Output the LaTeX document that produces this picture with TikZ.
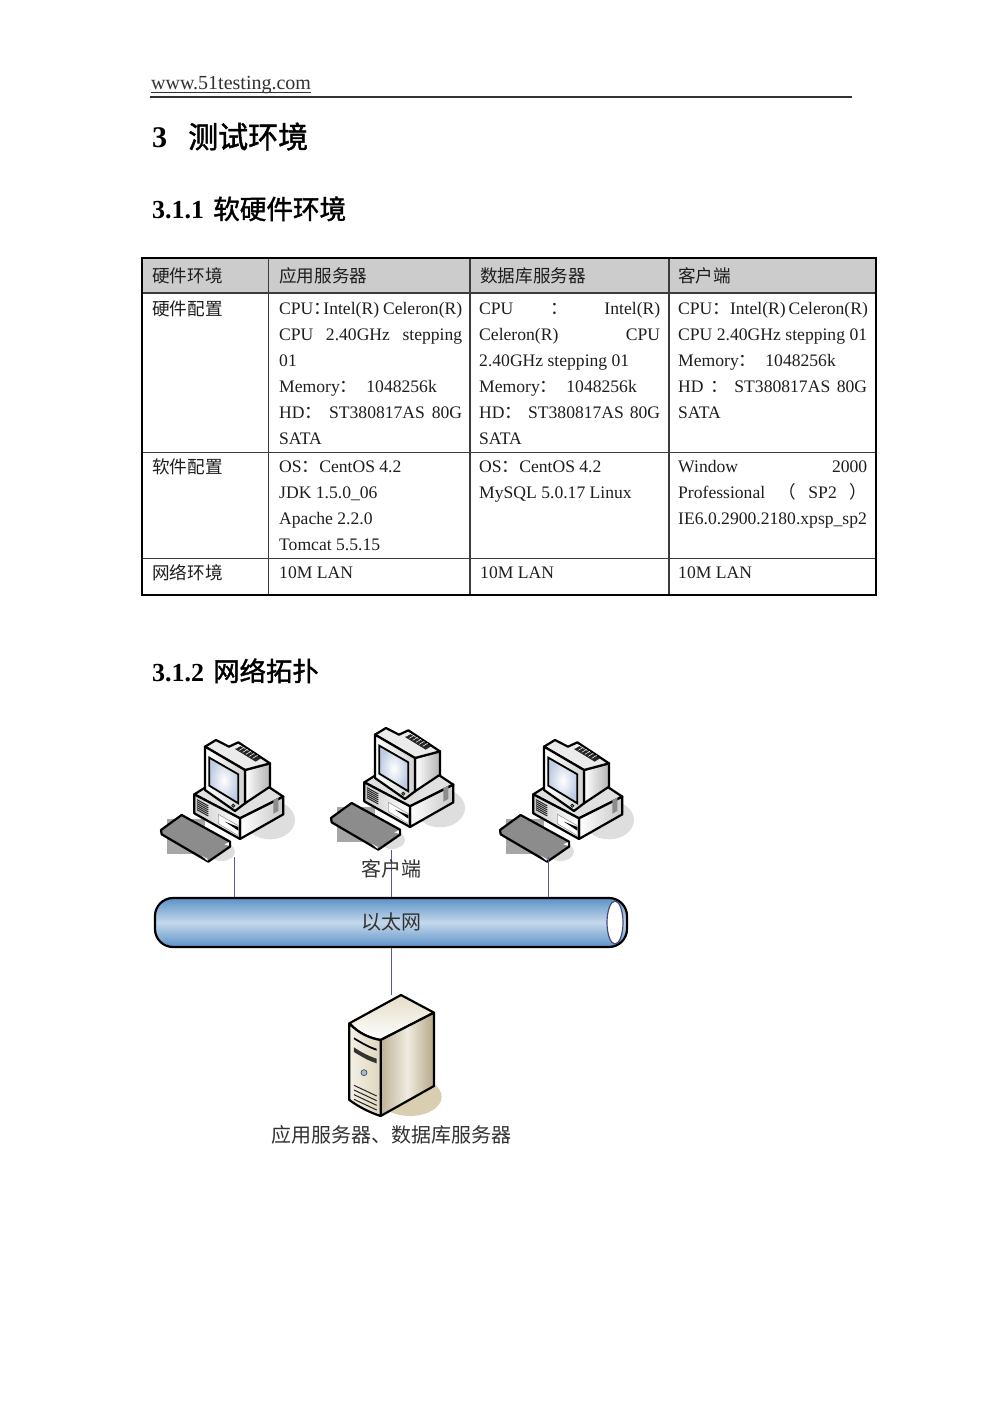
\documentclass[tikz,border=0pt]{standalone}
\usepackage{fontspec}
\setmainfont{Liberation Serif}
\newfontfamily\cjk{Noto Sans CJK SC}
\newfontfamily\cjkhead[FakeBold=1.5]{Noto Sans CJK SC}
\usetikzlibrary{shapes.geometric, positioning, calc}
\definecolor{headgray}{RGB}{204, 204, 204}
\definecolor{gridgray}{RGB}{60, 60, 60}
\definecolor{inkgray}{RGB}{50, 50, 50}
\definecolor{pcshadow}{RGB}{222, 222, 222}
\definecolor{keygray}{RGB}{140, 140, 140}
\definecolor{screenblue}{RGB}{190, 203, 226}
\definecolor{linkblue}{RGB}{90, 90, 155}
\definecolor{tubeblue}{RGB}{92, 146, 200}
\definecolor{tubelight}{RGB}{196, 216, 234}
\definecolor{srvtan}{RGB}{217, 206, 176}
\definecolor{srvdark}{RGB}{168, 152, 116}
\newcommand{\cn}[1]{{\cjk #1}}
\newcommand{\hn}[2]{{\fontsize{#1}{30}\selectfont\mdseries\cjkhead #2}}
\newcommand{\fc}{{\cjk ：}}
\newcommand{\nc}{\makebox[10pt][l]{\cjk ：}}
\newcommand{\fit}[2][183pt]{\makebox[#1][s]{#2}}
\tikzset{
  headline/.style={anchor=base west, inner sep=0pt, font=\fontsize{30}{34}\selectfont\bfseries},
  subhead/.style={anchor=base west, inner sep=0pt, font=\fontsize{26}{30}\selectfont\bfseries},
  cellbox/.style={anchor=base west, inner sep=0pt, align=flush left, text width=230pt, text=inkgray!60!black,
    font=\fontsize{17.6}{26}\selectfont},
  netlabel/.style={inner sep=0pt, text=inkgray, font=\fontsize{20}{24}\selectfont\cjk},
  gridline/.style={draw=gridgray, line width=1.2pt},
  outerline/.style={draw=black, line width=2.5pt},
  busline/.style={draw=linkblue, line width=1pt},
  pcline/.style={draw=black, line width=2.2pt, line join=round},
  pcset/.pic={
    \begin{scope}[x=.3333pt, y=-.3333pt]
      % shadows and the grey patch behind the keyboard
      \fill[pcshadow] (345,255) ellipse [x radius=75, y radius=58];
      \fill[pcshadow] (200,350) ellipse [x radius=40, y radius=28];
      \fill[black!35] (35,252) rectangle (150,358);
      % case
      \path[pcline, fill=black!12] (118,178) -- (150,158) -- (340,155) -- (385,185) -- (255,250) -- cycle;
      \path[pcline, left color=white, right color=black!22] (255,250) -- (385,185) -- (385,238) -- (255,312) -- cycle;
      \path[pcline, left color=black!20, right color=white] (118,178) -- (255,250) -- (255,312) -- (118,235) -- cycle;
      \fill[black!45] (355,195) -- (370,188) -- (370,228) -- (355,236) -- cycle;
      \foreach \k in {0,6,...,30} {\draw[black!85, line width=1pt] (126,194+\k) -- (160,213+\k);}
      \path[draw=black!40, line width=.6pt, fill=white] (190,238) -- (250,272) -- (250,302) -- (190,266) -- cycle;
      \fill[black] (210,260) -- (250,276) -- (250,287) -- cycle;
      % monitor
      \path[pcline, left color=white, right color=black!30] (270,105) -- (345,85) -- (345,155) -- (270,205) -- cycle;
      \path[pcline, fill=black!8] (150,35) -- (183,15) -- (222,35) -- (250,22) -- (345,85) -- (270,105) -- cycle;
      \fill[black!85] (240,42) -- (255,33) -- (318,70) -- (302,80) -- cycle;
      \foreach \k in {0,10,...,50} {\draw[white, line width=.5pt] (243+\k,40+.6*\k) -- (258+\k,31+.6*\k);}
      \path[pcline, left color=white, right color=black!18] (150,35) -- (270,105) -- (270,205) -- (240,228) -- (150,165) -- cycle;
      \path[draw=black, line width=1.8pt, inner color=white, outer color=screenblue] (163,68) -- (250,118) -- (250,205) -- (163,152) -- cycle;
      \path[draw=black, line width=.5pt, fill=green!50!black!75] (235,212) circle [radius=5];
      % keyboard
      \path[pcline, fill=keygray] (18,285) -- (80,240) -- (225,320) -- (225,335) -- (160,380) -- (20,298) -- cycle;
      \fill[white] (140,362) -- (158,372) -- (158,378) -- cycle;
      \fill[white] (208,328) -- (222,322) -- (222,332) -- cycle;
    \end{scope}
  },
  srvset/.pic={
    \begin{scope}[x=.3333pt, y=-.3333pt]
      \fill[srvtan] (450,470) ellipse [x radius=95, y radius=58];
      % tower faces
      \path[pcline, top color=srvtan!70, bottom color=white] (268,250) -- (423,165) -- (522,218) -- (362,300) .. controls (330,295) and (295,280) .. (268,250) -- cycle;
      \path[pcline, shading angle=60, left color=srvdark!75, right color=srvdark!85, middle color=srvtan!40] (362,300) -- (522,218) -- (522,438) -- (362,528) -- cycle;
      \path[pcline, left color=srvtan!30, right color=srvtan!85] (268,250) .. controls (295,280) and (330,295) .. (362,300) -- (362,528) .. controls (330,518) and (295,500) .. (268,480) -- cycle;
      % drive slots, lamp and vents
      \fill[black] (282,298) .. controls (305,312) and (330,326) .. (350,332) -- (350,326) .. controls (325,318) and (305,306) .. (282,292) -- cycle;
      \fill[black!80] (282,322) .. controls (305,338) and (330,350) .. (350,356) -- (350,370) .. controls (325,362) and (305,350) .. (282,336) -- cycle;
      \path[draw=black!70, fill=green!35!blue!40!white, line width=.7pt] (312,398) circle [radius=9];
      \foreach \k in {0,14,28,42} {\draw[black!85, line width=1pt] (282,436+\k) -- (350,468+\k);}
    \end{scope}
  }
}

\begin{document}
\begin{tikzpicture}[x=1pt, y=-1pt]
  \path[use as bounding box, fill=white] (0,0) rectangle (1000,1415);

  % Page head and titles
  \node[anchor=base west, inner sep=0pt, font=\fontsize{20}{24}\selectfont, text=inkgray] (pagehead) at (151,90) {www.51testing.com};
  \draw[draw=inkgray, line width=.9pt] ($(pagehead.base west)+(0,2.2)$) -- ($(pagehead.base east)+(0,2.2)$);
  \draw[draw=inkgray, line width=1.3pt] (150,97) -- (852,97);
  \node[headline] (title) at (152,148) {3\hspace{21pt}\hn{30}{测试环境}};
  \node[subhead] (envhead) at (152,219) {3.1.1\hspace{9pt}\hn{26.6}{软硬件环境}};
  \node[subhead] (nethead) at (152,681) {3.1.2\hspace{9pt}\hn{26.4}{网络拓扑}};

  % Table grid
  \fill[headgray] (142,258) rectangle (876,293);
  \draw[gridline] (142,293) -- (876,293);
  \draw[gridline] (142,452.5) -- (876,452.5);
  \draw[gridline] (142,558.5) -- (876,558.5);
  \draw[gridline] (268.5,258) -- (268.5,595);
  \draw[gridline] (470,258) -- (470,595);
  \draw[gridline] (669,258) -- (669,595);
  \draw[outerline] (142,258) rectangle (876,595);

  % Table head
  \node[cellbox] (headhw) at (152,283) {\cn{硬件环境}};
  \node[cellbox] (headapp) at (279,283) {\cn{应用服务器}};
  \node[cellbox] (headdb) at (480,283) {\cn{数据库服务器}};
  \node[cellbox] (headcl) at (678,283) {\cn{客户端}};

  % Hardware row
  \node[cellbox] (hwname) at (152,315) {\cn{硬件配置}};
  \node[cellbox] (hwapp) at (279,314) {%
    \fit{CPU\nc Intel(R) Celeron(R)}\\
    \fit{CPU 2.40GHz stepping}\\
    01\\
    Memory\fc\hspace{9pt}1048256k\\
    \fit{HD\fc\ ST380817AS 80G}\\
    SATA};
  \node[cellbox] (hwdb) at (479,314) {%
    \fit[181pt]{CPU \cn{：} Intel(R)}\\
    \fit[181pt]{Celeron(R) CPU}\\
    2.40GHz stepping 01\\
    Memory\fc\hspace{9pt}1048256k\\
    \fit[181pt]{HD\fc\ ST380817AS 80G}\\
    SATA};
  \node[cellbox] (hwcl) at (678,314) {%
    \fit[189pt]{CPU\fc Intel(R) Celeron(R)}\\
    \fit[189pt]{CPU 2.40GHz stepping 01}\\
    Memory\fc\hspace{9pt}1048256k\\
    \fit[189pt]{HD\ \fc\ ST380817AS 80G}\\
    SATA};

  % Software row
  \node[cellbox] (swname) at (152,473) {\cn{软件配置}};
  \node[cellbox] (swapp) at (279,472) {%
    OS\fc CentOS 4.2\\
    JDK 1.5.0\_06\\
    Apache 2.2.0\\
    Tomcat 5.5.15};
  \node[cellbox] (swdb) at (479,472) {%
    OS\fc CentOS 4.2\\
    MySQL 5.0.17 Linux};
  \node[cellbox] (swcl) at (678,472) {%
    \fit[189pt]{Window 2000}\\
    \fit[189pt]{Professional \cn{（} SP2 \cn{）}}\\
    \fit[189pt]{IE6.0.2900.2180.xpsp\_sp2}};

  % Network row
  \node[cellbox] (lanname) at (152,579) {\cn{网络环境}};
  \node[cellbox] (lanapp) at (279,578) {10M LAN};
  \node[cellbox] (landb) at (480,578) {10M LAN};
  \node[cellbox] (lancl) at (678,578) {10M LAN};

  % Machines
  \pic (pcleft) at (155,735) {pcset};
  \pic (pcmid) at (325,723) {pcset};
  \pic (pcright) at (494,735) {pcset};
  \pic (server) at (260,940) {srvset};

  % Ethernet tube
  \node[draw=black, line width=2.2pt, rounded corners=18pt, minimum width=472pt, minimum height=49pt,
    inner sep=0pt, top color=tubeblue, bottom color=tubeblue, middle color=tubelight] (ether) at (391,922.5) {};
  \node[draw=linkblue!80!black, fill=white, line width=1.2pt, ellipse, minimum width=16pt, minimum height=43pt, inner sep=0pt] (etherend) at (615,922.5) {};
  \node[netlabel] (ethertext) at (391,922) {以太网};

  % Links
  \coordinate (dropleft) at (234.5,857);
  \coordinate (dropmid) at (391.5,850);
  \coordinate (dropright) at (548.5,857);
  \coordinate (dropsrv) at (391.5,995);
  \draw[busline] (dropleft) -- (dropleft |- ether.north);
  \draw[busline] (dropmid) -- (dropmid |- ether.north);
  \draw[busline] (dropright) -- (dropright |- ether.north);
  \draw[busline] (dropsrv |- ether.south) -- (dropsrv);

  % Labels
  \node[netlabel] (clientlabel) at (391,869) {客户端};
  \node[netlabel] (serverlabel) at (391,1135) {应用服务器、数据库服务器};
\end{tikzpicture}
\end{document}
